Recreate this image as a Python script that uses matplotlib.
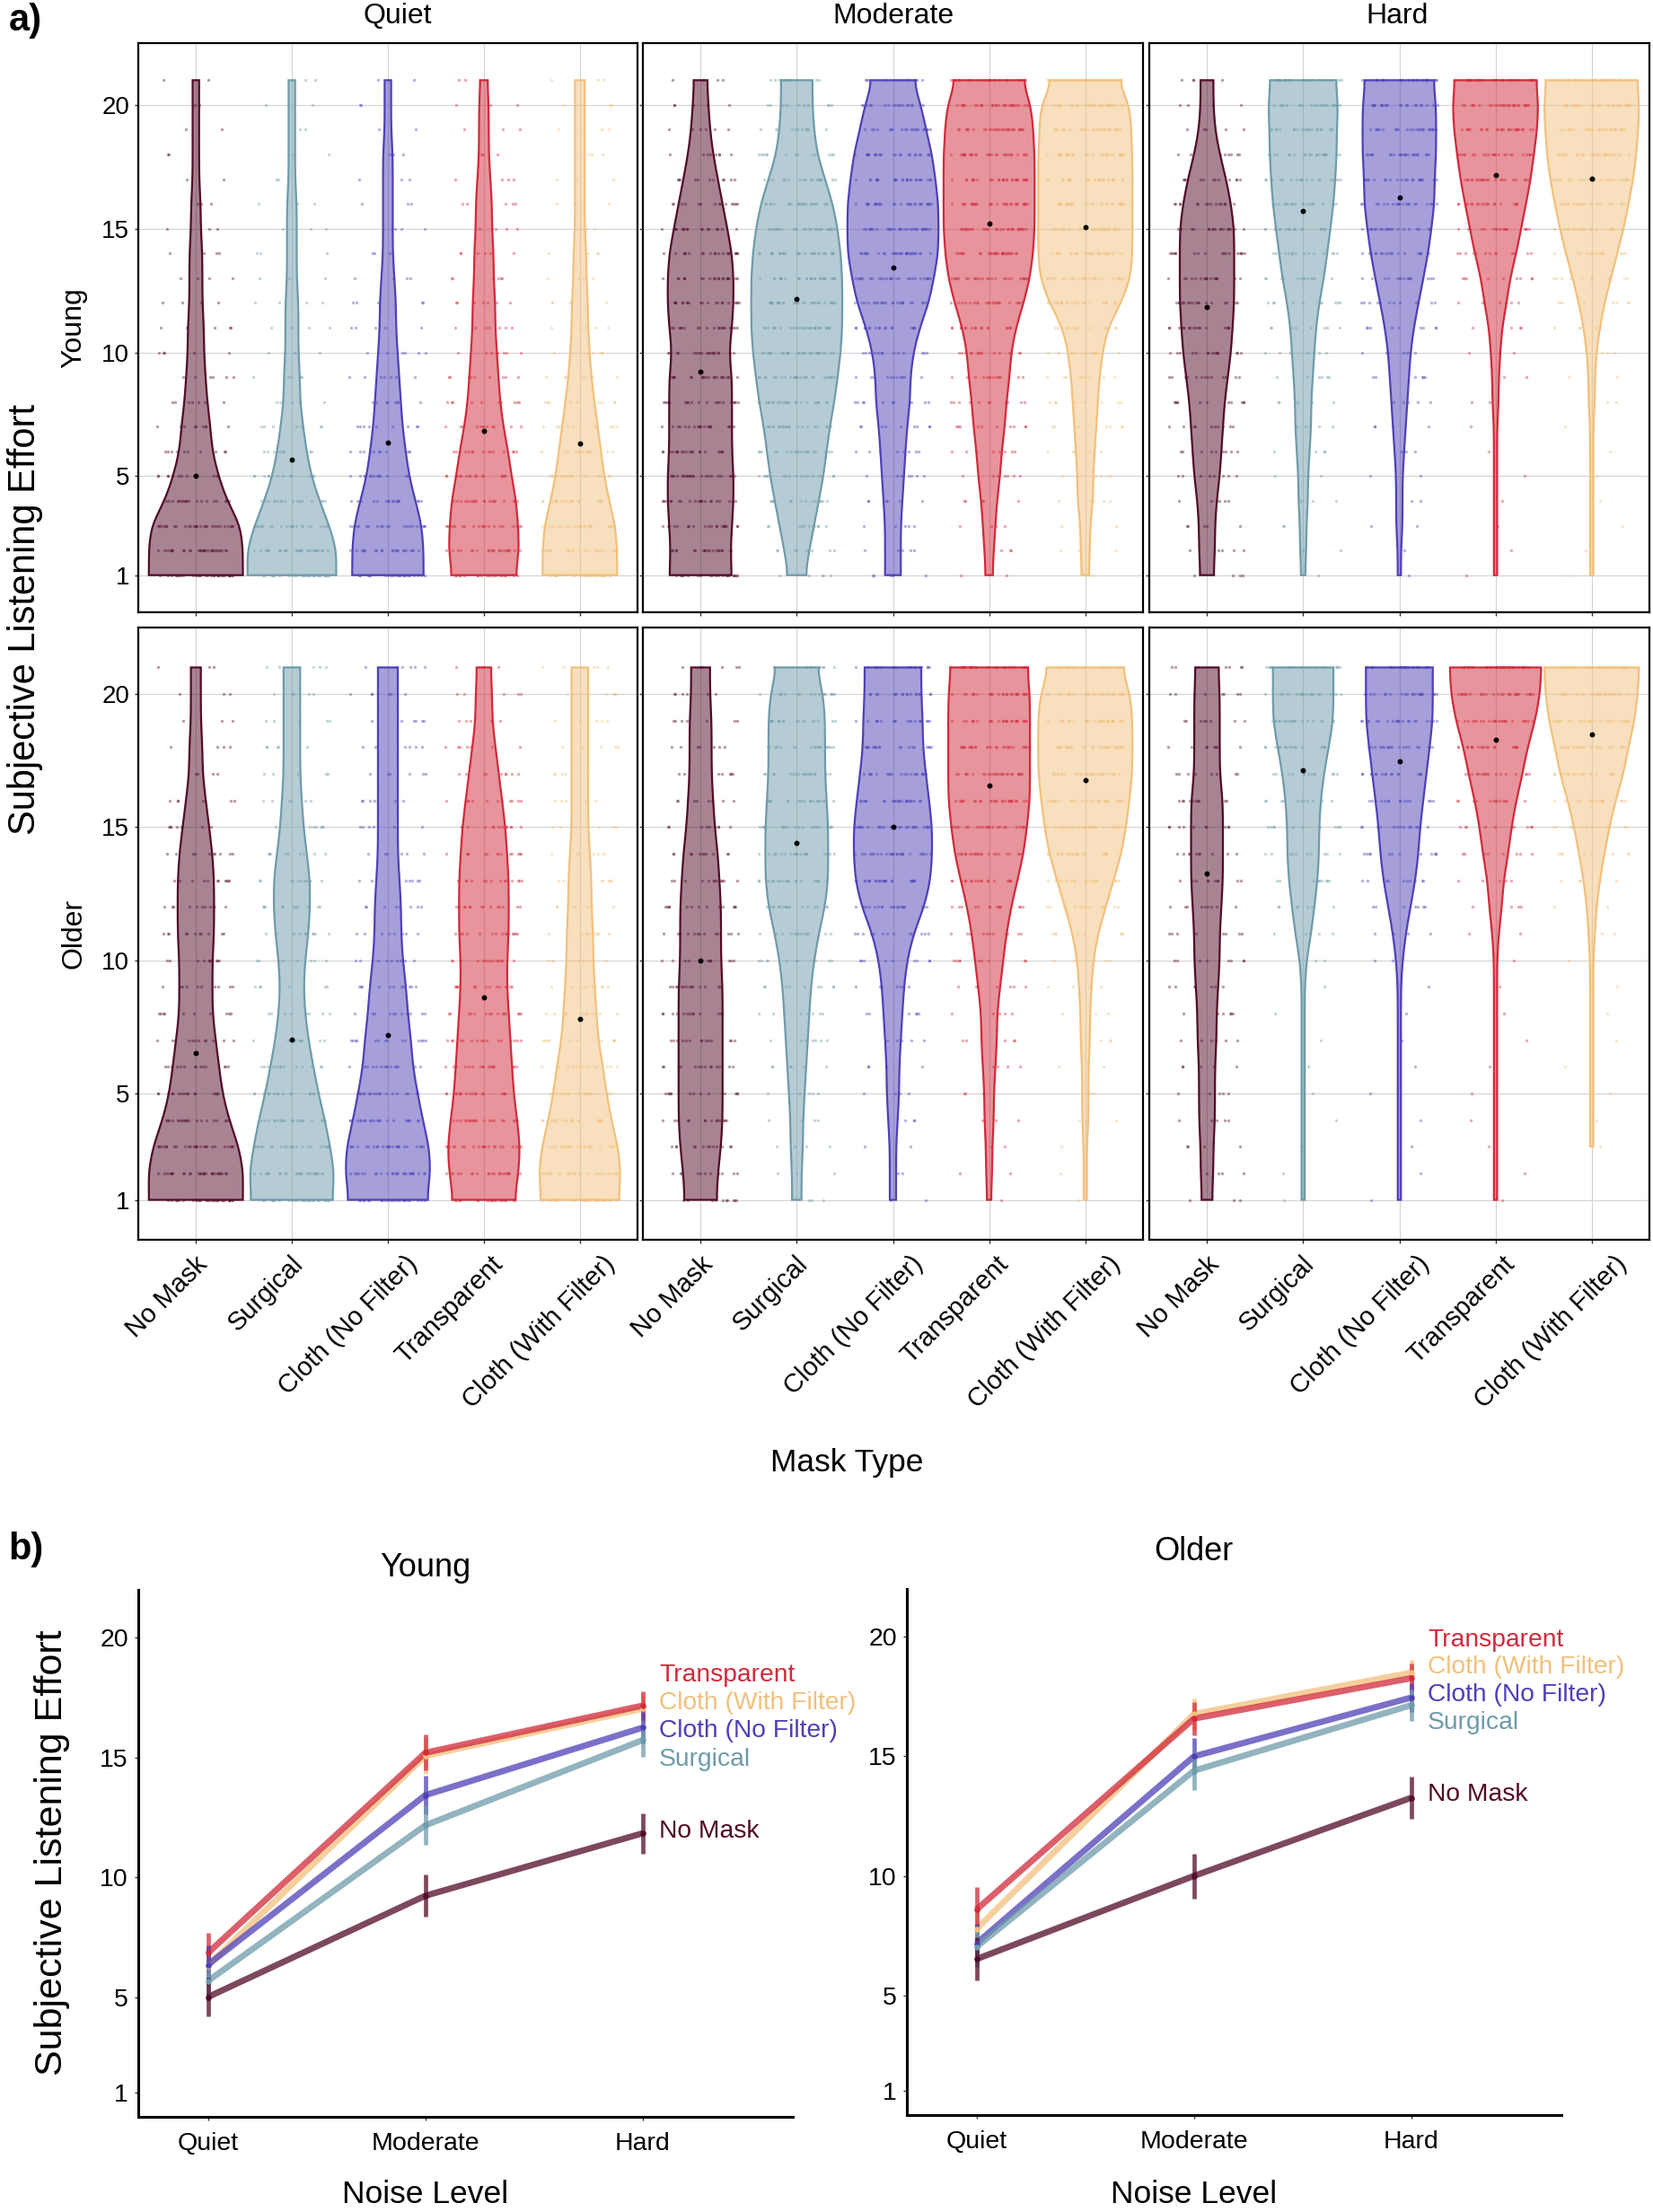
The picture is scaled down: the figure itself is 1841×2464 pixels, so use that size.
import numpy as np
import matplotlib.pyplot as plt
import matplotlib.transforms as mtransforms
from matplotlib.colors import to_rgba

plt.rcParams['font.family'] = ['Liberation Sans', 'DejaVu Sans']

# --- data ---
masks = ["No Mask", "Surgical", "Cloth (No Filter)", "Transparent", "Cloth (With Filter)"]
noise = ["Quiet", "Moderate", "Hard"]
ages = ["Young", "Older"]
colors = ["#520B28", "#6E9BAA", "#4E40B6", "#D12A3B", "#F2C07C"]
levels = np.arange(1, 22)
yticks = [1, 5, 10, 15, 20]

# number of responses at each rating 1..21, one row per mask type
young_quiet = [
    [29, 29, 28, 19, 14, 10, 9, 7, 6, 5, 5, 4, 4, 4, 3, 3, 2, 2, 2, 2, 2],
    [27, 28, 23, 17, 12, 9, 7, 5, 5, 4, 4, 4, 3, 3, 3, 3, 2, 2, 2, 2, 2],
    [22, 22, 21, 17, 13, 11, 9, 8, 7, 6, 5, 5, 4, 3, 3, 3, 3, 3, 2, 2, 2],
    [19, 22, 21, 20, 17, 15, 12, 10, 9, 8, 7, 7, 6, 6, 5, 5, 4, 3, 3, 3, 2],
    [23, 23, 22, 18, 15, 13, 11, 9, 7, 6, 5, 5, 4, 4, 3, 3, 3, 3, 3, 3, 3],
]
young_moderate = [
    [20, 19, 20, 21, 21, 20, 20, 20, 20, 18, 20, 21, 21, 20, 17, 14, 11, 8, 6, 5, 4],
    [5, 8, 11, 14, 17, 19, 21, 24, 26, 28, 29, 29, 29, 28, 26, 23, 18, 13, 11, 10, 10],
    [5, 5, 5, 6, 7, 8, 9, 11, 11, 13, 17, 23, 26, 29, 29, 29, 27, 25, 21, 18, 12],
    [2, 3, 4, 5, 7, 8, 10, 11, 13, 14, 17, 22, 26, 28, 29, 29, 29, 29, 28, 27, 20],
    [2, 3, 3, 5, 5, 6, 7, 8, 9, 11, 14, 23, 29, 30, 30, 30, 30, 30, 29, 29, 19],
]
young_hard = [
    [4, 5, 5, 6, 8, 9, 10, 11, 13, 15, 16, 17, 17, 17, 17, 15, 12, 8, 5, 4, 4],
    [1, 2, 2, 3, 3, 4, 5, 5, 6, 7, 8, 10, 13, 15, 17, 19, 20, 21, 21, 22, 20],
    [1, 1, 2, 2, 2, 3, 4, 5, 6, 7, 9, 12, 15, 18, 20, 22, 22, 23, 23, 23, 21],
    [1, 1, 1, 1, 1, 1, 1, 2, 2, 3, 4, 7, 9, 13, 16, 19, 22, 24, 26, 27, 25],
    [1, 1, 1, 1, 1, 1, 1, 2, 2, 3, 5, 8, 12, 16, 20, 23, 26, 28, 29, 30, 28],
]
older_quiet = [
    [28, 29, 26, 20, 16, 14, 12, 10, 10, 10, 11, 11, 11, 10, 8, 6, 4, 4, 3, 3, 3],
    [24, 26, 23, 20, 16, 13, 10, 8, 7, 8, 10, 11, 11, 9, 7, 6, 5, 5, 5, 5, 5],
    [23, 26, 25, 21, 18, 15, 14, 12, 11, 9, 8, 8, 7, 6, 6, 6, 6, 6, 6, 6, 6],
    [18, 21, 22, 20, 18, 17, 16, 15, 14, 14, 15, 15, 15, 14, 13, 11, 9, 7, 5, 5, 4],
    [23, 25, 23, 19, 16, 14, 11, 10, 9, 8, 8, 7, 7, 6, 5, 5, 5, 5, 5, 5, 5],
]
older_moderate = [
    [10, 11, 13, 14, 14, 14, 14, 14, 14, 13, 13, 13, 12, 11, 9, 8, 7, 7, 7, 6, 6],
    [3, 3, 4, 4, 5, 6, 7, 8, 9, 11, 14, 18, 20, 20, 20, 19, 18, 18, 18, 17, 12],
    [2, 2, 2, 3, 4, 4, 5, 6, 7, 9, 13, 20, 24, 25, 25, 23, 21, 19, 19, 18, 18],
    [1, 2, 2, 3, 3, 4, 5, 5, 7, 9, 11, 14, 18, 22, 24, 26, 26, 26, 26, 26, 24],
    [1, 1, 1, 2, 2, 2, 3, 3, 4, 5, 8, 13, 18, 23, 26, 28, 30, 30, 30, 29, 22],
]
older_hard = [
    [3, 4, 4, 5, 5, 5, 6, 6, 7, 8, 8, 9, 10, 10, 10, 10, 8, 8, 8, 8, 7],
    [1, 1, 1, 1, 1, 1, 1, 1, 1, 2, 5, 7, 9, 10, 10, 11, 13, 16, 19, 19, 19],
    [1, 1, 1, 1, 1, 1, 1, 1, 1, 2, 4, 7, 10, 12, 13, 15, 17, 19, 21, 21, 21],
    [1, 1, 1, 1, 1, 1, 1, 1, 1, 1, 2, 4, 5, 8, 10, 13, 17, 20, 25, 28, 29],
    [0, 0, 1, 1, 1, 1, 1, 1, 1, 1, 2, 3, 5, 8, 11, 15, 20, 23, 27, 29, 30],
]

# mean effort per noise level (rows) and mask (columns)
mean_young = [
    [5.0, 5.67, 6.35, 6.84, 6.31],
    [9.23, 12.17, 13.43, 15.2, 15.07],
    [11.84, 15.73, 16.25, 17.17, 17.04],
]
mean_older = [
    [6.52, 7.03, 7.18, 8.59, 7.78],
    [10.0, 14.4, 15.0, 16.58, 16.77],
    [13.27, 17.14, 17.46, 18.27, 18.5],
]
err_young = [
    [0.8, 0.8, 0.8, 0.85, 0.8],
    [0.88, 0.82, 0.8, 0.75, 0.75],
    [0.84, 0.7, 0.65, 0.6, 0.6],
]
err_older = [
    [0.9, 0.85, 0.8, 0.95, 0.85],
    [0.94, 0.8, 0.75, 0.7, 0.65],
    [0.87, 0.65, 0.6, 0.6, 0.55],
]
label_y_young = [11.9, 14.9, 16.1, 18.45, 17.28]
label_y_older = [13.4, 16.4, 17.56, 19.85, 18.73]

counts = {
    ("Young", "Quiet"): young_quiet, ("Young", "Moderate"): young_moderate,
    ("Young", "Hard"): young_hard, ("Older", "Quiet"): older_quiet,
    ("Older", "Moderate"): older_moderate, ("Older", "Hard"): older_hard,
}
means = {"Young": np.array(mean_young), "Older": np.array(mean_older)}
errs = {"Young": np.array(err_young), "Older": np.array(err_older)}
label_y = {"Young": label_y_young, "Older": label_y_older}


def density(cnt, bw=0.65):
    # gaussian kde of the rating counts, reflected at the observed range ends
    cnt = np.asarray(cnt, float)
    lo, hi = levels[cnt > 0].min(), levels[cnt > 0].max()
    y = np.linspace(lo, hi, 300)
    d = np.zeros_like(y)
    for lev, c in zip(levels, cnt):
        centres = [lev]
        if lev != lo:
            centres.append(2 * lo - lev)
        if lev != hi:
            centres.append(2 * hi - lev)
        for m in centres:
            d += c * np.exp(-0.5 * ((y - m) / bw) ** 2)
    return y, d / (bw * np.sqrt(2 * np.pi))


W, H = 1841, 2464
fig = plt.figure(figsize=(W / 100, H / 100), dpi=100)


def add_ax(left, top, right, bottom):
    return fig.add_axes([left / W, 1 - bottom / H, (right - left) / W, (bottom - top) / H])


# --- a) violins ---
col_px = [(154, 710), (716, 1273), (1280, 1837)]
row_px = [(48, 682), (699, 1381)]
strip_x = [443, 995, 1556]
label_dx = [-1, -2, 19, 7, 25]   # px right of the tick where each rotated label ends
golden = 0.6180339887

for r, age in enumerate(ages):
    for c, nz in enumerate(noise):
        ax = add_ax(col_px[c][0], row_px[r][0], col_px[c][1], row_px[r][1])
        profiles = [density(g) for g in counts[(age, nz)]]
        pmax = max(d.max() for _, d in profiles)
        for i, (y, d) in enumerate(profiles):
            x0 = i + 1
            half = 0.49 * d / pmax
            xs = np.r_[x0 - half, (x0 + half)[::-1]]
            ys = np.r_[y, y[::-1]]
            ax.fill(xs, ys, facecolor=to_rgba(colors[i], 0.5), edgecolor=colors[i],
                    lw=1.6, zorder=2)
            px, py = [], []
            k = 7 * i + 5 * c + 3 * r
            for lev, n in zip(levels, counts[(age, nz)][i]):
                for _ in range(n):
                    k += 1
                    u = (k * k * golden + k * 0.4142136) % 1
                    px.append(x0 + (u - 0.5) * 0.8)
                    py.append(lev)
            ax.scatter(px, py, s=6, color=colors[i], alpha=0.4, lw=0, zorder=3)
            ax.scatter([x0], [means[age][c, i]], s=18, color='black', lw=0, zorder=4)
        ax.set_xlim(0.4, 5.6)
        ax.set_ylim(-0.5, 22.5)
        ax.set_yticks(yticks)
        ax.set_xticks(range(1, 6))
        ax.grid(color='#D3D3D3', lw=0.8)
        ax.set_axisbelow(True)
        for s in ax.spines.values():
            s.set_linewidth(1.6)
        ax.tick_params(length=3, width=1, color='#333333', labelsize=20, pad=4)
        ax.tick_params(axis='x', labelbottom=False)
        if c > 0:
            ax.tick_params(labelleft=False)
        if r == 0:
            fig.text(strip_x[c] / W, 1 - 18 / H, nz, ha='center', va='center', fontsize=23)
        else:
            for i, name in enumerate(masks):
                tr = ax.get_xaxis_transform() + mtransforms.ScaledTranslation(
                    label_dx[i] / 100, -13 / 100, fig.dpi_scale_trans)
                ax.text(i + 1, 0, name, transform=tr, rotation=45, ha='right', va='top',
                        rotation_mode='anchor', fontsize=21)
    fig.text(82 / W, 1 - (row_px[r][0] + row_px[r][1]) / 2 / H, age, rotation=90,
             ha='center', va='center', fontsize=23)

fig.text(28 / W, 1 - 690 / H, "Subjective Listening Effort", rotation=90,
         ha='center', va='center', fontsize=30)
fig.text(943 / W, 1 - 1630 / H, "Mask Type", ha='center', va='center', fontsize=25.5)
fig.text(10 / W, 1 - 23 / H, "a)", ha='left', va='center', fontsize=30, fontweight='bold')

# --- b) mean lines ---
b_px = {"Young": (154, 1771, 883, 2358), "Older": (1010, 1770, 1739, 2356)}
title_y = {"Young": 1747, "Older": 1728}
x = np.array([1, 2, 3])
for age in ages:
    ax = add_ax(*b_px[age])
    m, e = means[age], errs[age]
    for i in [4, 3, 2, 1, 0]:
        ax.plot(x, m[:, i], color=colors[i], lw=5, alpha=0.75, solid_capstyle='butt', zorder=2)
        ax.vlines(x, m[:, i] - e[:, i], m[:, i] + e[:, i], color=colors[i], lw=3.4,
                  alpha=0.75, zorder=3)
        ax.scatter(x, m[:, i], s=22, color=colors[i], lw=0, zorder=4)
        ax.text(3.075, label_y[age][i], masks[i], color=colors[i], fontsize=20.3,
                ha='left', va='center', clip_on=False)
    ax.set_xlim(0.68, 3.69)
    ax.set_ylim(0, 22)
    ax.set_yticks(yticks)
    ax.set_xticks(x)
    ax.set_xticklabels(noise)
    for s in ['top', 'right']:
        ax.spines[s].set_visible(False)
    for s in ['left', 'bottom']:
        ax.spines[s].set_linewidth(2.2)
    ax.tick_params(length=3, width=1, color='#333333', labelsize=20.5, pad=5)
    ax.tick_params(axis='x', pad=9)
    left, top, right, bottom = b_px[age]
    xc = left + (right - left) * (2 - 0.68) / (3.69 - 0.68)
    fig.text(xc / W, 1 - title_y[age] / H, age, ha='center', va='center', fontsize=26)
    fig.text(xc / W, 1 - 2445 / H, "Noise Level", ha='center', va='center', fontsize=25.5)

fig.text(58 / W, 1 - 2064 / H, "Subjective Listening Effort", rotation=90,
         ha='center', va='center', fontsize=31)
fig.text(9 / W, 1 - 1726 / H, "b)", ha='left', va='center', fontsize=30, fontweight='bold')

fig.savefig("out.png", dpi=100)
